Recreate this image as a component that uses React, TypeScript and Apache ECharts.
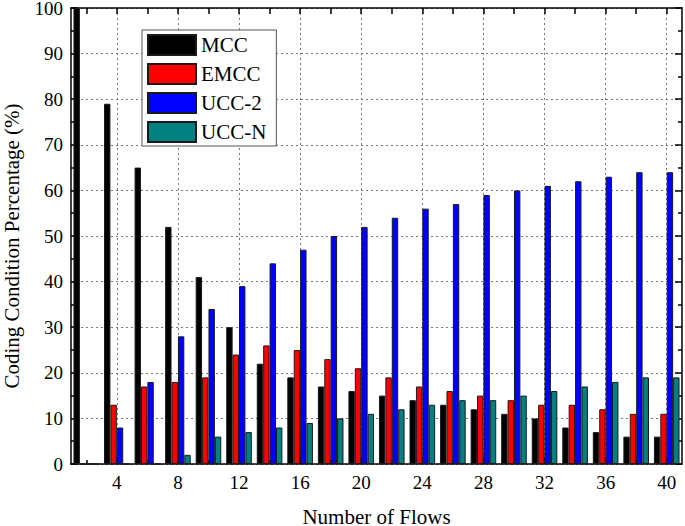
import React, { useEffect, useRef } from 'react';
import * as echarts from 'echarts';

const flows = [2, 4, 6, 8, 10, 12, 14, 16, 18, 20, 22, 24, 26, 28, 30, 32, 34, 36, 38, 40];
const seriesNames = ['MCC', 'EMCC', 'UCC-2', 'UCC-N'];
const mcc = [100, 79, 65, 52, 41, 30, 22, 19, 17, 16, 15, 14, 13, 12, 11, 10, 8, 7, 6, 6];
const emcc = [0, 13, 17, 18, 19, 24, 26, 25, 23, 21, 19, 17, 16, 15, 14, 13, 13, 12, 11, 11];
const ucc2 = [0, 8, 18, 28, 34, 39, 44, 47, 50, 52, 54, 56, 57, 59, 60, 61, 62, 63, 64, 64];
const uccN = [0, 0, 0, 2, 6, 7, 8, 9, 10, 11, 12, 13, 14, 14, 15, 16, 17, 18, 19, 19];
const xMajorTicks = [4, 8, 12, 16, 20, 24, 28, 32, 36, 40];
const xMinorTicks = [2, 6, 10, 14, 18, 22, 26, 30, 34, 38];
const colors = ['#000000', '#ff0000', '#0000ff', '#008080'];

const FONT = 'Liberation Serif';

export default function App() {
  const ref = useRef<HTMLDivElement>(null);
  useEffect(() => {
    if (!ref.current) return;
    const chart = echarts.init(ref.current, null, { renderer: 'svg' });
    const values = [mcc, emcc, ucc2, uccN];
    const axisLine = { show: true, onZero: false, lineStyle: { color: '#000', width: 1.5 } };
    const option: any = {
      animation: false,
      backgroundColor: '#ffffff',
      grid: { left: 71, right: 3, top: 8, bottom: 62, containLabel: false, outerBoundsMode: 'none' },
      legend: {
        orient: 'vertical',
        left: 142,
        top: 30,
        itemWidth: 48,
        itemHeight: 20,
        itemGap: 7,
        itemTextGap: 5,
        padding: [4, 10, 3, 5],
        borderColor: '#555',
        borderWidth: 1,
        backgroundColor: '#ffffff',
        icon: 'rect',
        textStyle: { fontFamily: FONT, fontSize: 21, color: '#000', lineHeight: 20 },
        data: seriesNames,
      },
      xAxis: [
        {
          type: 'value', min: 1, max: 41, position: 'bottom',
          name: 'Number of Flows', nameLocation: 'middle', nameGap: 44,
          nameTextStyle: { fontFamily: FONT, fontSize: 21, color: '#000', lineHeight: 18 },
          axisLine,
          axisTick: { show: true, inside: true, length: 7, customValues: xMajorTicks, lineStyle: { color: '#000', width: 1.5 } },
          axisLabel: { customValues: xMajorTicks, fontFamily: FONT, fontSize: 19, color: '#000', margin: 9 },
          splitLine: { show: true, lineStyle: { type: [2, 3], color: '#777', width: 1 } },
        },
        {
          type: 'value', min: 1, max: 41, position: 'top',
          axisLine,
          axisTick: { show: true, inside: true, length: 6, customValues: flows, lineStyle: { color: '#000', width: 1.5 } },
          axisLabel: { show: false },
          splitLine: { show: false },
        },
        {
          type: 'value', min: 1, max: 41, position: 'bottom',
          axisLine: { show: false },
          axisTick: { show: true, inside: true, length: 4, customValues: xMinorTicks, lineStyle: { color: '#000', width: 1.5 } },
          axisLabel: { show: false },
          splitLine: { show: false },
        },
      ],
      yAxis: [
        {
          type: 'value', min: 0, max: 100, interval: 10, position: 'left',
          name: 'Coding Condition Percentage (%)', nameLocation: 'middle', nameGap: 49,
          nameTextStyle: { fontFamily: FONT, fontSize: 21, color: '#000', padding: [0, 20, 0, 0] },
          axisLine,
          axisTick: { show: true, inside: true, length: 7, lineStyle: { color: '#000', width: 1.5 } },
          minorTick: { show: true, splitNumber: 2, length: 4, lineStyle: { color: '#000', width: 1.5 } },
          axisLabel: { fontFamily: FONT, fontSize: 19, color: '#000', margin: 8, lineHeight: 14 },
          splitLine: { show: true, lineStyle: { type: [2, 3], color: '#777', width: 1 } },
        },
        {
          type: 'value', min: 0, max: 100, interval: 10, position: 'right',
          axisLine,
          axisTick: { show: true, inside: true, length: 7, lineStyle: { color: '#000', width: 1.5 } },
          minorTick: { show: true, splitNumber: 2, length: 4, lineStyle: { color: '#000', width: 1.5 } },
          axisLabel: { show: false },
          splitLine: { show: false },
        },
      ],
      series: seriesNames.map((name, i) => ({
        type: 'bar',
        name,
        xAxisIndex: 0,
        yAxisIndex: 0,
        barWidth: 6.4,
        barGap: '0%',
        itemStyle: { color: colors[i], borderColor: '#1a1a1a', borderWidth: 1 },
        data: flows.map((f, j) => [f, values[i][j]]),
      })),
    };
    chart.setOption(option);
    return () => chart.dispose();
  }, []);
  return <div ref={ref} style={{ position: 'fixed', left: 0, top: 0, width: 685, height: 526 }} />;
}
